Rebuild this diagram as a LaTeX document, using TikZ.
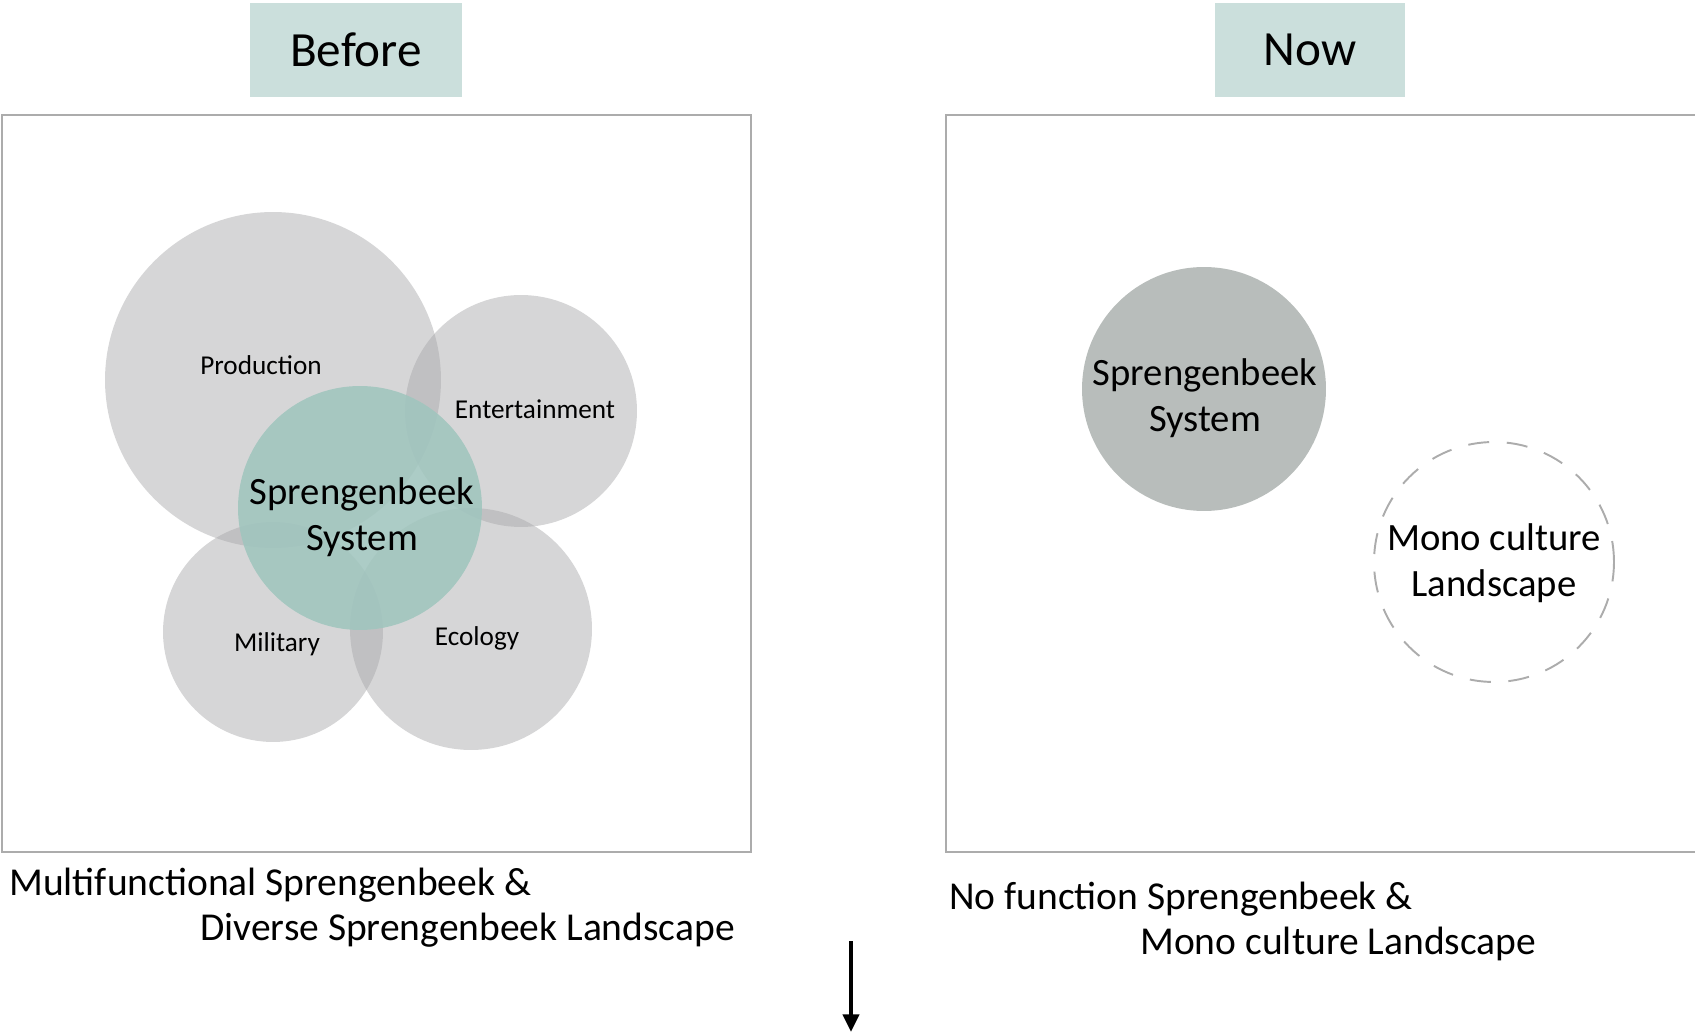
\documentclass[tikz,border=0pt]{standalone}
\usepackage{fontspec}
\setmainfont{Carlito}
\usetikzlibrary{arrows.meta,positioning}

\definecolor{headgreen}{RGB}{203,223,220}
\definecolor{bubblegray}{RGB}{166,166,168}
\definecolor{sysgreen}{RGB}{160,197,190}
\definecolor{nowgray}{RGB}{184,189,187}
\definecolor{framegray}{RGB}{172,172,172}

\tikzset{
  header/.style={fill=headgreen, minimum height=1.88cm, inner sep=0pt,
    font=\fontsize{28}{32}\selectfont},
  frame/.style={draw=framegray, line width=1.4pt},
  bubble/.style={circle, fill=bubblegray, fill opacity=0.46, inner sep=0pt},
  fnlabel/.style={font=\fontsize{15.5}{18}\selectfont},
  syslabel/.style={align=center, font=\fontsize{22}{26.4}\selectfont},
  caption/.style={anchor=west, inner sep=0pt, font=\fontsize{22.5}{27}\selectfont},
}

\begin{document}
\begin{tikzpicture}[x=0.02cm, y=-0.02cm]
  \useasboundingbox (0,0) rectangle (1695,1033);

  % headers
  \node[header, minimum width=4.24cm] (before) at (356,50) {Before};
  \node[header, minimum width=3.82cm] (now) at (1310,50) {Now};

  % frames
  \draw[frame] (2,115) rectangle (751,852);
  \draw[frame] (946,115) rectangle (1697,852);

  % before: functions around the system
  \foreach \nm/\x/\y/\d in {prod/273/380/6.72cm, ent/521/411/4.64cm,
                            mil/273/632/4.40cm, eco/471/629/4.84cm} {
    \node[bubble, minimum size=\d] (\nm) at (\x,\y) {};
  }
  \node[circle, inner sep=0pt, minimum size=4.88cm, fill=sysgreen,
        fill opacity=0.88] (sys) at (360,508) {};

  \node[fnlabel] (prodtext) at (261,365) {Production};
  \node[fnlabel] (enttext) at (535,409) {Entertainment};
  \node[fnlabel] (miltext) at (277,644) {Military};
  \node[fnlabel] (ecotext) at (477,638) {Ecology};
  \node[syslabel] (systext) at (362,517) {Sprengenbeek\\System};

  % now: system and landscape apart
  \node[circle, inner sep=0pt, minimum size=4.88cm, fill=nowgray] (nowsys) at (1204,389) {};
  \node[circle, inner sep=0pt, minimum size=4.80cm, draw=framegray, line width=1.1pt,
        dash pattern=on 12pt off 10pt] (mono) at (1494,562) {};
  \node[syslabel] (nowsystext) at (1205,398) {Sprengenbeek\\System};
  \node[syslabel] (monotext) at (1494,563) {Mono culture\\Landscape};

  % captions
  \node[caption] (capa) at (9,885) {Multifunctional Sprengenbeek \&};
  \node[caption] (capb) at (200,930) {Diverse Sprengenbeek Landscape};
  \node[caption] (capc) at (949,899) {No function Sprengenbeek \&};
  \node[caption] (capd) at (1140,944) {Mono culture Landscape};

  % arrow
  \coordinate (arrtop) at (851,941);
  \coordinate (arrtip) at (851,1032);
  \draw[-{Triangle[length=10pt,width=9pt]}, line width=2.6pt] (arrtop) -- (arrtip);

\end{tikzpicture}
\end{document}
